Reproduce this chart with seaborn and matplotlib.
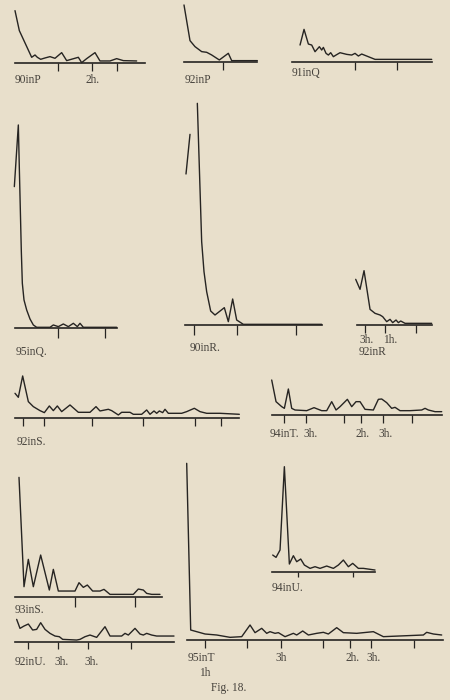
import matplotlib
matplotlib.use("Agg")
import matplotlib.pyplot as plt
import seaborn as sns

# readings off the plate: t = time along the record, v = height above the base line
# (both in the same arbitrary units, 3 units to one pixel of the plate)
p90P_t = [0, 13, 50, 60, 67, 77, 90, 105, 120, 140, 155, 190, 200, 215, 240, 255, 285, 305, 325, 365]
p90P_v = [158, 98, 18, 25, 18, 12, 16, 20, 15, 32, 8, 18, 2, 14, 32, 7, 7, 14, 8, 7]
p90P_ticks = [130, 230, 305]

p92P_t = [0, 18, 33, 53, 68, 83, 106, 133, 143, 220]
p92P_v = [172, 65, 47, 32, 30, 22, 7, 27, 5, 5]
p92P_ticks = [118]

p91Q_t = [25, 37, 50, 60, 70, 83, 90, 95, 103, 110, 117, 125, 133, 145, 165, 180, 190, 200, 210, 225, 250, 420]
p91Q_v = [50, 97, 53, 50, 30, 45, 35, 43, 25, 20, 27, 15, 20, 27, 22, 20, 25, 17, 23, 17, 7, 7]
p91Q_ticks = [190, 315]

p95Q_t = [-2, 10, 13, 16, 19, 22, 27, 35, 45, 55, 65, 105, 115, 130, 145, 160, 175, 187, 195, 205, 305]
p95Q_v = [425, 610, 480, 355, 230, 135, 85, 55, 28, 10, 3, 3, 10, 5, 13, 5, 15, 5, 15, 3, 3]
p95Q_ticks = [130, 270]

p90R_stub_t = [3, 15]
p90R_stub_v = [453, 572]
p90R_t = [37, 50, 57, 65, 77, 90, 118, 130, 143, 155, 175, 410]
p90R_v = [665, 250, 160, 100, 42, 30, 52, 10, 78, 15, 2, 2]
p90R_ticks = [27, 155, 333]

p92R_t = [-3, 10, 22, 40, 55, 70, 78, 90, 100, 108, 118, 125, 132, 145, 225]
p92R_v = [137, 107, 163, 47, 35, 30, 25, 10, 17, 7, 15, 7, 12, 5, 5]
p92R_ticks = [25, 85, 178]

p92S_t = [0, 10, 23, 40, 55, 75, 88, 103, 115, 127, 140, 165, 190, 225, 243, 255, 280, 290, 310,
          320, 345, 355, 380, 395, 405, 417, 425, 433, 443, 450, 460, 500, 515, 538, 555, 575, 615, 673]
p92S_v = [75, 63, 127, 50, 35, 23, 17, 37, 23, 37, 20, 40, 18, 18, 35, 22, 27, 23, 10,
          18, 18, 12, 12, 25, 12, 22, 15, 22, 17, 27, 15, 15, 20, 30, 20, 15, 15, 12]
p92S_ticks = [25, 88, 230, 383, 540, 617]

p94T_t = [0, 13, 30, 38, 50, 60, 70, 105, 127, 150, 165, 180, 193, 205, 227, 240, 253, 265, 280,
          305, 320, 330, 345, 360, 370, 385, 415, 450, 460, 470, 490, 510]
p94T_v = [105, 40, 25, 20, 78, 20, 15, 13, 22, 13, 13, 40, 15, 25, 47, 25, 40, 40, 17,
          15, 47, 48, 37, 20, 23, 13, 13, 15, 20, 15, 10, 10]
p94T_ticks = [38, 102, 218, 267, 333, 420]

p93S_t = [12, 27, 40, 55, 77, 103, 115, 130, 180, 192, 205, 217, 233, 255, 267, 285, 355, 370, 385, 395, 410, 435]
p93S_v = [358, 30, 112, 30, 125, 20, 82, 17, 17, 42, 28, 35, 17, 17, 22, 7, 7, 23, 20, 10, 7, 7]
p93S_ticks = [180, 360]

p92U_t = [5, 15, 27, 40, 53, 65, 77, 90, 105, 120, 133, 143, 185, 195, 210, 225, 245, 270, 285,
          320, 330, 340, 360, 375, 385, 395, 410, 425, 477]
p92U_v = [67, 40, 47, 53, 35, 37, 57, 37, 25, 17, 15, 7, 5, 7, 15, 20, 13, 45, 17,
          17, 25, 20, 40, 23, 20, 25, 20, 17, 17]
p92U_ticks = [40, 130, 220, 347]

p95T_t = [0, 12, 55, 90, 130, 165, 190, 205, 225, 240, 250, 265, 275, 295, 320, 330, 348, 365, 390,
          410, 425, 450, 470, 510, 560, 590, 710, 720, 740, 765]
p95T_v = [530, 30, 18, 15, 8, 10, 45, 22, 35, 20, 25, 20, 22, 10, 20, 15, 27, 15, 20,
          23, 18, 37, 22, 20, 25, 10, 15, 23, 18, 15]
p95T_ticks = [55, 182, 282, 410, 490, 552, 682]

p94U_t = [3, 13, 25, 38, 53, 65, 75, 87, 98, 115, 130, 145, 165, 185, 200, 215, 230, 243, 260, 275, 310]
p94U_v = [50, 43, 65, 315, 23, 48, 30, 38, 20, 10, 15, 10, 17, 10, 20, 35, 15, 25, 10, 10, 5]
p94U_ticks = [80, 243]

label_text = ["90inP", "2h.", "92inP", "91inQ", "95inQ.", "90inR.", "3h.", "1h.", "92inR",
              "92inS.", "94inT.", "3h.", "2h.", "3h.", "93inS.", "92inU.", "3h.", "3h.",
              "95inT", "1h", "3h", "2h.", "3h.", "94inU."]
caption = "Fig. 18."

PAPER = "#e8dfcb"
INK = "#262422"
TEXT = "#46423c"
W_PX, H_PX = 450, 700

sns.set_style("white")
plt.rcParams["font.family"] = ["Liberation Serif", "DejaVu Serif"]

fig = plt.figure(figsize=(W_PX / 100, H_PX / 100), dpi=100, facecolor=PAPER)

# layout: left px, baseline px, width units, height units, tick length px
layout = [
    ([(p90P_t, p90P_v)], p90P_ticks, 15, 63.3, 390, 170, 7.7),
    ([(p92P_t, p92P_v)], p92P_ticks, 184, 62.3, 220, 180, 7.7),
    ([(p91Q_t, p91Q_v)], p91Q_ticks, 291.7, 61.7, 420, 105, 8.3),
    ([(p95Q_t, p95Q_v)], p95Q_ticks, 15, 328.3, 305, 620, 10),
    ([(p90R_stub_t, p90R_stub_v), (p90R_t, p90R_v)], p90R_ticks, 185, 325, 410, 680, 10),
    ([(p92R_t, p92R_v)], p92R_ticks, 356.7, 325, 225, 170, 8.3),
    ([(p92S_t, p92S_v)], p92S_ticks, 15, 418.3, 673, 135, 8.3),
    ([(p94T_t, p94T_v)], p94T_ticks, 271.7, 415, 510, 110, 8.3),
    ([(p93S_t, p93S_v)], p93S_ticks, 15, 596.7, 440, 365, 10),
    ([(p92U_t, p92U_v)], p92U_ticks, 15, 641.7, 477, 75, 6.7),
    ([(p95T_t, p95T_v)], p95T_ticks, 186.7, 640, 770, 535, 8.3),
    ([(p94U_t, p94U_v)], p94U_ticks, 271.7, 571.7, 310, 320, 5),
]

for series, ticks, left, base, w, h, tl in layout:
    ax = fig.add_axes([left / W_PX, 1 - base / H_PX, w / 3 / W_PX, h / 3 / H_PX])
    ax.set_facecolor("none")
    for t, v in series:
        sns.lineplot(x=t, y=v, ax=ax, color=INK, lw=1.0, sort=False, estimator=None)
    for ln in ax.lines:
        ln.set_clip_on(False)
    ax.set_xlim(0, w)
    ax.set_ylim(0, h)
    sns.despine(ax=ax, left=True)
    ax.spines["bottom"].set_color(INK)
    ax.spines["bottom"].set_linewidth(1.2)
    ax.set_xticks(ticks)
    ax.set_xticklabels([])
    ax.set_yticks([])
    ax.tick_params(axis="x", direction="out", length=tl * 0.72, width=0.9, color=INK, bottom=True)

# label positions (px on the plate)
label_pos = [(15, 80), (85, 80), (185, 80), (292, 73), (16, 352), (190, 348), (359, 340), (383, 340),
             (359, 352), (17, 442), (270, 434), (303, 434), (355, 434), (378, 434), (15, 610),
             (15, 662), (54, 662), (84, 662), (188, 658), (199, 673), (275, 658), (345, 658),
             (366, 658), (272, 588)]
for s, (x, y) in zip(label_text, label_pos):
    fig.text(x / W_PX, 1 - y / H_PX, s, ha="left", va="center", fontsize=8.3, color=TEXT)

fig.text(229 / W_PX, 1 - 688 / H_PX, caption, ha="center", va="center", fontsize=8.3, color=TEXT)

fig.savefig("out.png", dpi=100, facecolor=PAPER)
